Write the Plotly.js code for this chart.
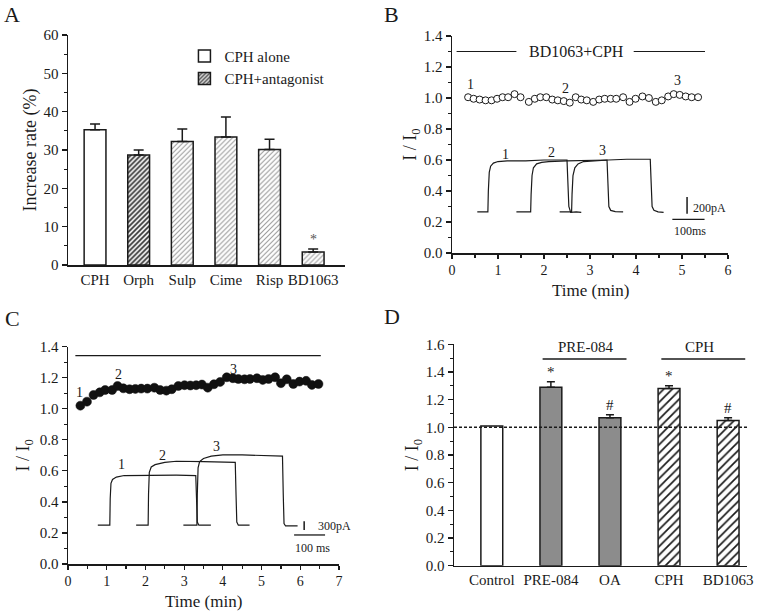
<!DOCTYPE html>
<html><head><meta charset="utf-8">
<script src="https://cdn.plot.ly/plotly-3.0.1.min.js"></script>
<style>html,body{margin:0;padding:0;background:#fff}#chart{width:759px;height:611px}</style>
</head><body><div id="chart"></div>
<script>
// ---------- Panel A ----------
const aCategories = ['CPH','Orph','Sulp','Cime','Risp','BD1063'];
const aAloneCats = ['CPH'];
const aAloneValues = [35.3];
const aAloneErrors = [1.5];
const aAntCats = ['Orph','Sulp','Cime','Risp','BD1063'];
const aAntValues = [28.7, 32.2, 33.4, 30.1, 3.4];
const aAntErrors = [1.3, 3.3, 5.2, 2.7, 0.8];
const aSignif = ['', '', '', '', '*'];

// ---------- Panel B ----------
const bTime = [0.35,0.47,0.60,0.73,0.86,0.98,1.10,1.22,1.36,1.49,1.67,1.80,1.92,2.05,2.18,2.30,2.43,2.56,2.69,2.81,2.93,3.07,3.20,3.32,3.45,3.57,3.72,3.86,3.99,4.14,4.28,4.43,4.56,4.70,4.82,4.95,5.08,5.21,5.35];
const bRatio = [1.005,0.995,0.99,0.985,0.985,0.995,1.005,1.005,1.025,1.005,0.975,0.995,1.005,1.005,0.99,0.985,0.98,0.97,1.005,0.99,0.985,0.975,0.99,0.995,0.995,0.995,1.005,0.975,0.995,1.01,1.0,0.975,0.985,1.01,1.025,1.02,1.01,1.005,1.005];
// inset current traces (plotted in panel units)
const bTrace1X = [0.55,0.78,0.79,0.81,0.84,0.90,1.00,1.20,1.60,2.00,2.50,2.52,2.54,2.58,2.70,2.81];
const bTrace1Y = [0.265,0.265,0.40,0.52,0.56,0.58,0.59,0.595,0.595,0.60,0.60,0.45,0.30,0.262,0.265,0.262];
const bTrace2X = [1.40,1.71,1.72,1.74,1.77,1.84,1.95,2.10,2.50,3.00,3.37,3.39,3.41,3.45,3.55,3.72];
const bTrace2Y = [0.265,0.265,0.38,0.50,0.55,0.575,0.585,0.59,0.595,0.60,0.60,0.45,0.30,0.275,0.267,0.265];
const bTrace3X = [2.34,2.60,2.61,2.63,2.67,2.74,2.86,3.05,3.40,3.80,4.31,4.33,4.35,4.39,4.48,4.60];
const bTrace3Y = [0.265,0.265,0.38,0.50,0.55,0.575,0.59,0.595,0.60,0.605,0.605,0.45,0.30,0.275,0.265,0.262];

// ---------- Panel C ----------
const cTime = [0.32,0.49,0.66,0.82,0.96,1.14,1.28,1.43,1.59,1.74,1.89,2.05,2.23,2.38,2.54,2.68,2.85,3.01,3.16,3.31,3.46,3.61,3.77,3.93,4.10,4.26,4.40,4.56,4.70,4.88,5.03,5.18,5.35,5.50,5.65,5.82,5.98,6.15,6.30,6.47];
const cRatio = [1.02,1.046,1.089,1.106,1.121,1.121,1.147,1.132,1.126,1.128,1.13,1.13,1.136,1.121,1.117,1.126,1.147,1.152,1.15,1.152,1.156,1.136,1.158,1.173,1.203,1.197,1.192,1.19,1.192,1.197,1.186,1.192,1.203,1.165,1.19,1.16,1.175,1.18,1.154,1.16];
const cTrace1X = [0.77,1.08,1.09,1.11,1.15,1.25,1.45,2.00,2.80,3.30,3.32,3.34,3.38,3.50,3.69];
const cTrace1Y = [0.25,0.25,0.42,0.52,0.545,0.56,0.57,0.572,0.572,0.57,0.42,0.27,0.25,0.25,0.25];
const cTrace2X = [1.76,2.07,2.08,2.10,2.15,2.25,2.50,2.80,3.50,4.32,4.34,4.36,4.40,4.69];
const cTrace2Y = [0.25,0.25,0.45,0.59,0.625,0.64,0.655,0.662,0.66,0.655,0.45,0.27,0.25,0.25];
const cTrace3X = [2.98,3.33,3.34,3.36,3.40,3.50,3.70,4.00,4.50,5.00,5.54,5.56,5.58,5.62,5.93];
const cTrace3Y = [0.25,0.25,0.45,0.62,0.66,0.68,0.695,0.703,0.703,0.70,0.695,0.45,0.26,0.245,0.245];

// ---------- Panel D ----------
const dCategories = ['Control','PRE-084','OA','CPH','BD1063'];
const dControlCats = ['Control'];
const dControlValues = [1.01];
const dPreCats = ['PRE-084','OA'];
const dPreValues = [1.29, 1.07];
const dPreErrors = [0.04, 0.02];
const dCphCats = ['CPH','BD1063'];
const dCphValues = [1.28, 1.05];
const dCphErrors = [0.02, 0.02];
const dPreSignif = ['*', '#'];
const dCphSignif = ['*', '#'];

const FONT = 'Liberation Serif, Times New Roman, serif';
const INK = '#1a1a1a';

function dom(px0, px1, total){ return [px0/total, px1/total]; }
function ydom(top, bottom){ return [1 - bottom/611, 1 - top/611]; }

const traces = [];
// A bars
traces.push({type:'bar', x:aAloneCats, y:aAloneValues, xaxis:'x', yaxis:'y', name:'CPH alone', width:0.5,
  marker:{color:'#ffffff', line:{color:INK, width:1.5}},
  error_y:{type:'data', array:aAloneErrors, arrayminus:aAloneErrors.map(()=>0), symmetric:false, color:INK, thickness:1.5, width:5}});
traces.push({type:'bar', x:aAntCats, y:aAntValues, xaxis:'x', yaxis:'y', name:'CPH+antagonist', width:0.5,
  marker:{color:'#ffffff', line:{color:INK, width:1.5},
    pattern:{shape:'/', fgcolor:['#333333','#9a9a9a','#9a9a9a','#9a9a9a','#9a9a9a'], bgcolor:'#ffffff', size:3.5, solidity:[0.5,0.3,0.3,0.3,0.3]}},
  error_y:{type:'data', array:aAntErrors, arrayminus:aAntErrors.map(()=>0), symmetric:false, color:INK, thickness:1.5, width:5}});

// B
traces.push({type:'scatter', mode:'lines', x:bTrace1X, y:bTrace1Y, xaxis:'x2', yaxis:'y2', line:{color:INK, width:1.2}, showlegend:false});
traces.push({type:'scatter', mode:'lines', x:bTrace2X, y:bTrace2Y, xaxis:'x2', yaxis:'y2', line:{color:INK, width:1.2}, showlegend:false});
traces.push({type:'scatter', mode:'lines', x:bTrace3X, y:bTrace3Y, xaxis:'x2', yaxis:'y2', line:{color:INK, width:1.2}, showlegend:false});
traces.push({type:'scatter', mode:'markers', x:bTime, y:bRatio, xaxis:'x2', yaxis:'y2',
  marker:{symbol:'circle', size:7, color:'#ffffff', line:{color:INK, width:1}}, showlegend:false});

// C
traces.push({type:'scatter', mode:'lines', x:cTrace1X, y:cTrace1Y, xaxis:'x3', yaxis:'y3', line:{color:INK, width:1.2}, showlegend:false});
traces.push({type:'scatter', mode:'lines', x:cTrace2X, y:cTrace2Y, xaxis:'x3', yaxis:'y3', line:{color:INK, width:1.2}, showlegend:false});
traces.push({type:'scatter', mode:'lines', x:cTrace3X, y:cTrace3Y, xaxis:'x3', yaxis:'y3', line:{color:INK, width:1.2}, showlegend:false});
traces.push({type:'scatter', mode:'markers', x:cTime, y:cRatio, xaxis:'x3', yaxis:'y3',
  marker:{symbol:'circle', size:9, color:'#111111', line:{color:'#111111', width:0.5}}, showlegend:false});

// D
traces.push({type:'bar', x:dControlCats, y:dControlValues, xaxis:'x4', yaxis:'y4', width:0.37, showlegend:false,
  marker:{color:'#ffffff', line:{color:INK, width:1.5}}});
traces.push({type:'bar', x:dPreCats, y:dPreValues, xaxis:'x4', yaxis:'y4', width:0.37, showlegend:false,
  marker:{color:'#8c8c8c', line:{color:INK, width:1.5}},
  error_y:{type:'data', array:dPreErrors, arrayminus:dPreErrors.map(()=>0), symmetric:false, color:INK, thickness:1.5, width:4}});
traces.push({type:'bar', x:dCphCats, y:dCphValues, xaxis:'x4', yaxis:'y4', width:0.37, showlegend:false,
  marker:{color:'#ffffff', line:{color:INK, width:1.5}, pattern:{shape:'/', fgcolor:INK, bgcolor:'#ffffff', size:6, solidity:0.28}},
  error_y:{type:'data', array:dCphErrors, arrayminus:dCphErrors.map(()=>0), symmetric:false, color:INK, thickness:1.5, width:4}});

const tickFont = {family:FONT, size:15, color:INK};
function yAx(domain, range, dtick, minor, fmt, anchor, title, standoff){
  return {domain:domain, range:range, anchor:anchor, showline:true, linecolor:INK, linewidth:1.5,
    ticks:'outside', ticklen:5, tickwidth:1.2, tickcolor:INK, dtick:dtick, tick0:0, tickformat:fmt,
    minor:{dtick:minor, ticks:'outside', ticklen:3, tickwidth:1.2, tickcolor:INK},
    showgrid:false, zeroline:false, tickfont:tickFont, fixedrange:true,
    title:{text:title, font:{family:FONT, size:18, color:INK}, standoff:standoff}};
}
function xTimeAx(domain, anchor, maxv){
  return {domain:domain, anchor:anchor, range:[0,maxv], dtick:1, tick0:0, showline:true, linecolor:INK, linewidth:1.5,
    ticks:'outside', ticklen:4, tickwidth:1.2, tickcolor:INK, minor:{dtick:0.5, ticks:'outside', ticklen:3, tickwidth:1.2, tickcolor:INK},
    showgrid:false, zeroline:false, tickfont:{family:FONT, size:14, color:INK}, fixedrange:true};
}

const layout = {
  width:759, height:611, margin:{l:0, r:0, t:0, b:0}, paper_bgcolor:'#fff', plot_bgcolor:'rgba(0,0,0,0)',
  barmode:'overlay', showlegend:true,
  legend:{x:0.243, y:0.935, xanchor:'left', yanchor:'top', font:{family:FONT, size:15, color:INK}, bgcolor:'rgba(0,0,0,0)', tracegroupgap:0, itemwidth:30},
  xaxis:{domain:dom(68,345,759), anchor:'y', type:'category', categoryorder:'array', categoryarray:aCategories, range:[-0.62,5.73],
    showline:true, linecolor:INK, linewidth:1.5, ticks:'', showgrid:false, zeroline:false, tickfont:{family:FONT, size:15, color:INK}, fixedrange:true},
  yaxis:yAx(ydom(35,265), [0,60], 10, 5, 'd', 'x', 'Increase rate (%)', 2),
  xaxis2:xTimeAx(dom(452,728,759), 'y2', 6),
  yaxis2:yAx(ydom(36,253), [0,1.4], 0.2, 0.1, '.1f', 'x2', 'I / I<sub>0</sub>', 2),
  xaxis3:xTimeAx(dom(68,339,759), 'y3', 7),
  yaxis3:yAx(ydom(346.7,564), [0,1.4], 0.2, 0.1, '.1f', 'x3', 'I / I<sub>0</sub>', 5),
  xaxis4:{domain:dom(454,747,759), anchor:'y4', type:'category', categoryorder:'array', categoryarray:dCategories, range:[-0.64,4.32],
    showline:true, linecolor:INK, linewidth:1.5, ticks:'', showgrid:false, zeroline:false, tickfont:{family:FONT, size:15, color:INK}, fixedrange:true},
  yaxis4:yAx(ydom(344.3,565.7), [0,1.6], 0.2, 0.1, '.1f', 'x4', 'I / I<sub>0</sub>', 2),
  shapes:[], annotations:[]
};

const S = layout.shapes, A = layout.annotations;
function line(xref, yref, x0, y0, x1, y1, w){ S.push({type:'line', xref:xref, yref:yref, x0:x0, y0:y0, x1:x1, y1:y1, line:{color:INK, width:w||1.3}}); }
function txt(xref, yref, x, y, t, size, xanchor, yanchor, color){
  A.push({xref:xref, yref:yref, x:x, y:y, text:t, showarrow:false, xanchor:xanchor||'center', yanchor:yanchor||'middle',
    font:{family:FONT, size:size||14, color:color||INK}});
}

// panel letters
txt('paper','paper', 12/759, 1-15/611, 'A', 22);
txt('paper','paper', 391/759, 1-15/611, 'B', 22);
txt('paper','paper', 12/759, 1-318/611, 'C', 22);
txt('paper','paper', 392/759, 1-316/611, 'D', 22);

// x-axis titles for time panels
txt('paper','paper', 590/759, 1-290/611, 'Time (min)', 17);
txt('paper','paper', 203/759, 1-601/611, 'Time (min)', 17);

// A significance
aAntCats.forEach((c,i)=>{ if(aSignif[i]) A.push({xref:'x', yref:'y', x:c, y:aAntValues[i]+aAntErrors[i], text:aSignif[i], showarrow:false, yanchor:'bottom', yshift:0,
  font:{family:FONT, size:14, color:'#555'}}); });

// B decorations
line('x2','y2', 0.1, 1.30, 1.4, 1.30, 1.2);
line('x2','y2', 3.95, 1.30, 5.5, 1.30, 1.2);
txt('x2','y2', 2.7, 1.30, 'BD1063+CPH', 16);
txt('x2','y2', 0.40, 1.088, '1', 14);
txt('x2','y2', 2.47, 1.063, '2', 14);
txt('x2','y2', 4.91, 1.11, '3', 14);
txt('x2','y2', 1.17, 0.637, '1', 14);
txt('x2','y2', 2.16, 0.65, '2', 14);
txt('x2','y2', 3.27, 0.66, '3', 14);
line('x2','y2', 5.11, 0.253, 5.11, 0.361, 1.5);
line('x2','y2', 4.79, 0.217, 5.49, 0.217, 1.3);
txt('x2','y2', 5.19, 0.29, '200pA', 12, 'left');
txt('x2','y2', 5.17, 0.141, '100ms', 12);

// C decorations
line('x3','y3', 0.19, 1.342, 6.53, 1.342, 1.2);
txt('x3','y3', 3.28, 1.417, 'PRE-084', 15);
txt('x3','y3', 0.30, 1.106, '1', 14);
txt('x3','y3', 1.31, 1.218, '2', 14);
txt('x3','y3', 4.27, 1.254, '3', 14);
txt('x3','y3', 1.37, 0.638, '1', 14);
txt('x3','y3', 2.45, 0.696, '2', 14);
txt('x3','y3', 3.83, 0.756, '3', 14);
line('x3','y3', 6.10, 0.219, 6.10, 0.275, 1.5);
line('x3','y3', 5.84, 0.187, 6.64, 0.187, 1.3);
txt('x3','y3', 6.40, 0.245, '300pA', 12, 'left');
txt('x3','y3', 6.31, 0.10, '100 ms', 12);

// D decorations
S.push({type:'line', xref:'x4 domain', yref:'y4', x0:0, x1:1, y0:1.0, y1:1.0, line:{color:INK, width:1.5, dash:'3px,2px'}});
line('x4','y4', 0.86, 1.494, 2.28, 1.494, 1.4);
line('x4','y4', 2.87, 1.494, 4.29, 1.494, 1.4);
txt('x4','y4', 1.59, 1.583, 'PRE-084', 15);
txt('x4','y4', 3.52, 1.583, 'CPH', 15);
dPreCats.forEach((c,i)=>{ A.push({xref:'x4', yref:'y4', x:c, y:dPreValues[i]+dPreErrors[i], text:dPreSignif[i], showarrow:false, yanchor:'bottom', font:{family:FONT, size:15, color:INK}}); });
dCphCats.forEach((c,i)=>{ A.push({xref:'x4', yref:'y4', x:c, y:dCphValues[i]+dCphErrors[i], text:dCphSignif[i], showarrow:false, yanchor:'bottom', font:{family:FONT, size:15, color:INK}}); });

Plotly.newPlot('chart', traces, layout, {displayModeBar:false, staticPlot:true});
</script></body></html>
